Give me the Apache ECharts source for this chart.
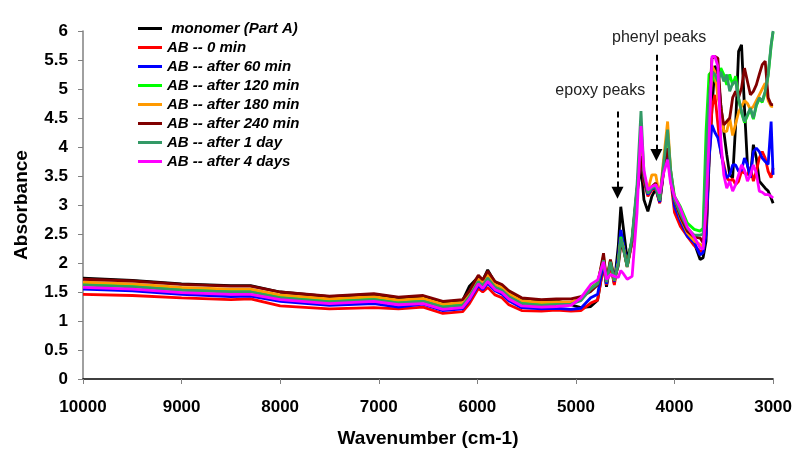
<!DOCTYPE html>
<html>
<head>
<meta charset="utf-8">
<script src="https://cdn.jsdelivr.net/npm/echarts@6/dist/echarts.min.js"></script>
<style>
html,body{margin:0;padding:0;background:#fff;}
#chart{width:795px;height:453px;}
</style>
</head>
<body>
<div id="chart"></div>
<script>
// Wavenumbers (cm-1)
const wavenumbers = [10000,9500,9000,8500,8300,8000,7500,7050,6800,6550,6350,6150,6080,5990,5945,5895,5820,5750,5680,5550,5350,5200,5050,
  4950,4850,4780,4720,4690,4650,4610,4570,4545,4520,4480,4430,4380,4340,4310,4270,4230,4190,4150,4110,4070,4040,4000,3940,3870,3800,
  3740,3710,3680,3650,3620,3590,3560,3530,3500,3470,3440,3410,3380,3350,3320,3290,3260,3230,3200,3170,3140,3110,3080,3050,3020,3000];

const seriesNames = [" monomer (Part A)","AB -- 0 min","AB -- after 60 min","AB -- after 120 min","AB -- after 180 min","AB -- after 240 min","AB -- after 1 day","AB -- after 4 days"];

const monomer = [1.74,1.70,1.64,1.61,1.61,1.50,1.42,1.46,1.40,1.42,1.32,1.35,1.60,1.76,1.70,1.88,1.66,1.60,1.48,1.37,1.34,1.35,1.28,
  1.23,1.25,1.36,1.98,1.59,2.00,1.64,2.30,2.97,2.62,2.06,2.38,3.20,3.67,3.09,2.89,3.15,3.28,3.05,3.60,3.95,3.50,3.05,2.78,2.50,2.35,
  2.06,2.09,2.38,3.69,4.67,5.40,5.25,4.73,4.27,3.87,3.52,3.47,4.38,5.65,5.76,4.67,3.69,3.47,4.04,3.81,3.41,3.35,3.29,3.24,3.12,3.03];

const ab0min = [1.46,1.44,1.40,1.37,1.38,1.26,1.21,1.23,1.21,1.24,1.13,1.16,1.30,1.56,1.50,1.58,1.45,1.40,1.28,1.18,1.17,1.19,1.17,
  1.18,1.31,1.36,1.95,1.62,1.98,1.62,2.05,2.50,2.30,1.93,2.36,3.20,3.99,3.40,3.15,3.26,3.28,3.03,3.58,3.87,3.45,2.87,2.63,2.46,2.30,
  2.20,2.22,2.55,3.81,4.67,4.90,4.39,3.90,3.70,3.47,3.41,3.45,3.35,3.41,3.58,3.55,3.52,3.64,3.41,3.58,3.81,3.92,3.81,3.58,3.47,3.64];

const ab60min = [1.55,1.52,1.46,1.42,1.43,1.34,1.27,1.30,1.24,1.29,1.18,1.21,1.36,1.61,1.54,1.65,1.52,1.46,1.35,1.23,1.21,1.22,1.20,
  1.22,1.40,1.46,2.00,1.64,2.02,1.68,2.10,2.57,2.35,1.96,2.38,3.22,3.95,3.45,3.18,3.28,3.30,3.05,3.62,3.92,3.52,2.98,2.72,2.46,2.35,
  2.14,2.18,2.50,3.81,4.38,4.25,4.16,3.92,3.64,3.47,3.52,3.69,3.69,3.58,3.60,3.81,3.69,3.47,3.92,3.98,3.92,3.81,3.75,3.70,4.44,3.52];

const ab120min = [1.64,1.61,1.55,1.52,1.52,1.42,1.35,1.39,1.33,1.36,1.26,1.29,1.44,1.70,1.63,1.76,1.60,1.55,1.44,1.32,1.29,1.30,1.31,
  1.36,1.57,1.66,2.08,1.68,2.03,1.70,2.00,2.45,2.28,1.94,2.42,3.28,4.10,3.50,3.22,3.30,3.32,3.08,3.70,4.25,3.60,3.15,2.97,2.69,2.58,
  2.55,2.60,4.27,5.25,5.30,5.13,5.13,5.36,5.25,5.07,5.25,5.07,5.22,4.83,4.59,4.42,4.54,4.65,4.48,4.71,4.83,4.77,4.94,5.23,5.74,5.98];

const ab180min = [1.67,1.64,1.58,1.55,1.55,1.45,1.38,1.42,1.36,1.39,1.29,1.32,1.47,1.73,1.66,1.80,1.63,1.58,1.47,1.35,1.32,1.33,1.33,
  1.38,1.55,1.64,2.12,1.68,2.05,1.70,2.00,2.40,2.28,1.94,2.40,3.25,4.05,3.50,3.25,3.52,3.52,3.12,3.80,4.44,3.60,3.10,2.78,2.52,2.38,
  2.32,2.28,2.95,4.38,5.40,5.30,4.85,4.67,4.27,4.27,4.50,4.20,4.40,4.60,4.70,4.80,4.75,4.65,4.70,4.80,4.90,5.00,5.10,4.80,4.70,4.70];

const ab240min = [1.72,1.69,1.63,1.60,1.60,1.50,1.43,1.47,1.41,1.44,1.34,1.37,1.52,1.79,1.71,1.86,1.68,1.63,1.52,1.40,1.37,1.38,1.38,
  1.42,1.51,1.62,2.17,1.70,2.06,1.72,1.95,2.30,2.25,1.95,2.40,3.25,3.84,3.45,3.21,3.32,3.38,3.10,3.65,3.98,3.55,3.08,2.80,2.55,2.45,
  2.43,2.35,2.70,4.67,5.53,5.56,5.53,4.67,4.38,4.44,4.50,4.85,4.96,4.85,5.02,5.36,5.13,4.90,4.96,5.07,5.25,5.42,5.48,4.85,4.73,4.73];

const ab1day = [1.62,1.59,1.53,1.50,1.50,1.40,1.33,1.37,1.31,1.34,1.24,1.27,1.42,1.68,1.61,1.74,1.58,1.53,1.42,1.30,1.27,1.28,1.29,
  1.35,1.55,1.64,2.05,1.67,2.02,1.70,1.98,2.42,2.26,1.93,2.45,3.35,4.62,3.55,3.20,3.30,3.34,3.08,3.72,4.30,3.62,3.10,2.85,2.60,2.48,
  2.48,2.50,3.81,4.85,5.30,5.25,5.13,5.30,5.13,5.25,4.96,5.10,5.13,4.85,4.61,4.44,4.56,4.67,4.50,4.73,4.85,4.79,4.96,5.25,5.76,6.00];

const ab4days = [1.58,1.55,1.49,1.46,1.46,1.37,1.30,1.34,1.28,1.30,1.20,1.23,1.38,1.64,1.56,1.68,1.54,1.49,1.38,1.26,1.24,1.25,1.27,
  1.40,1.63,1.71,2.02,1.72,1.80,1.77,1.75,1.87,1.82,1.72,1.77,2.87,4.36,3.60,3.26,3.32,3.35,3.20,3.55,3.78,3.38,3.15,2.94,2.62,2.45,
  2.26,2.24,2.95,4.10,5.56,5.56,5.39,4.10,3.52,3.29,3.41,3.24,3.35,3.52,3.69,3.60,3.41,3.52,3.69,3.55,3.24,3.22,3.18,3.18,3.15,3.12];

const seriesValues = [monomer, ab0min, ab60min, ab120min, ab180min, ab240min, ab1day, ab4days];
const seriesColors = ["#000000","#ff0000","#0000ff","#00ff00","#ff9900","#800000","#339966","#ff00ff"];

// Annotations (data coordinates)
const annotationTexts = ["epoxy peaks","phenyl peaks"];
const arrowX = [4578, 4184];
const arrowTop = [4.61, 5.59];
const arrowTip = [3.21, 3.86];

const chart = echarts.init(document.getElementById('chart'), null, {renderer:'canvas'});

const series = seriesNames.map((name, k) => ({
  name: name,
  type: 'line',
  data: wavenumbers.map((w, i) => [w, seriesValues[k][i]]),
  showSymbol: false,
  symbol: 'none',
  lineStyle: {width: 2.8, color: seriesColors[k]},
  itemStyle: {color: seriesColors[k]},
  emphasis: {disabled: true},
  silent: true,
  z: 2 + k
}));

series.push({
  type: 'line',
  data: [],
  silent: true,
  z: 20,
  markLine: {
    silent: true,
    symbol: ['none', 'triangle'],
    symbolSize: [12, 12],
    label: {show: false},
    emphasis: {disabled: true},
    lineStyle: {color: '#000', width: 2, type: [6, 4]},
    data: arrowX.map((x, i) => [{coord: [x, arrowTop[i]]}, {coord: [x, arrowTip[i]]}])
  }
});

const option = {
  animation: false,
  backgroundColor: '#ffffff',
  grid: {left: 83, right: 20, top: 31, bottom: 74},
  legend: {
    orient: 'vertical',
    left: 133,
    top: 15,
    itemWidth: 24,
    itemHeight: 3,
    itemGap: 2,
    icon: 'rect',
    selectedMode: false,
    data: seriesNames,
    textStyle: {fontFamily: 'Liberation Sans', fontWeight: 'bold', fontStyle: 'italic', fontSize: 15, color: '#000', lineHeight: 17}
  },
  xAxis: {
    type: 'value',
    inverse: true,
    min: 3000,
    max: 10000,
    interval: 1000,
    name: 'Wavenumber (cm-1)',
    nameLocation: 'middle',
    nameGap: 50,
    nameTextStyle: {fontFamily: 'Liberation Sans', fontWeight: 'bold', fontSize: 19, color: '#000'},
    axisLine: {show: true, lineStyle: {color: '#000', width: 1.5}},
    axisTick: {show: true, inside: false, length: 5, lineStyle: {color: '#808080', width: 1}},
    axisLabel: {fontFamily: 'Liberation Sans', fontWeight: 'bold', fontSize: 17, color: '#000', margin: 20,
      formatter: v => String(v)},
    splitLine: {show: false}
  },
  yAxis: {
    type: 'value',
    min: 0,
    max: 6,
    interval: 0.5,
    name: 'Absorbance',
    nameLocation: 'middle',
    nameGap: 52,
    nameTextStyle: {fontFamily: 'Liberation Sans', fontWeight: 'bold', fontSize: 19, color: '#000'},
    axisLine: {show: true, lineStyle: {color: '#808080', width: 1.5}},
    axisTick: {show: true, inside: false, length: 5, lineStyle: {color: '#808080', width: 1}},
    axisLabel: {fontFamily: 'Liberation Sans', fontWeight: 'bold', fontSize: 17, color: '#000', margin: 15},
    splitLine: {show: false}
  },
  series: series
};

chart.setOption(option);

// annotation texts placed by converting data coords through the chart's own scales
const textPos = [[4753, 4.97], [4156, 5.88]];
chart.setOption({
  graphic: annotationTexts.map((t, i) => {
    const p = chart.convertToPixel({gridIndex: 0}, textPos[i]);
    return {
      type: 'text', x: p[0], y: p[1], silent: true, z: 30,
      style: {text: t, fontFamily: 'Liberation Sans', fontSize: 16, fill: '#222', align: 'center', verticalAlign: 'middle'}
    };
  })
});
</script>
</body>
</html>
